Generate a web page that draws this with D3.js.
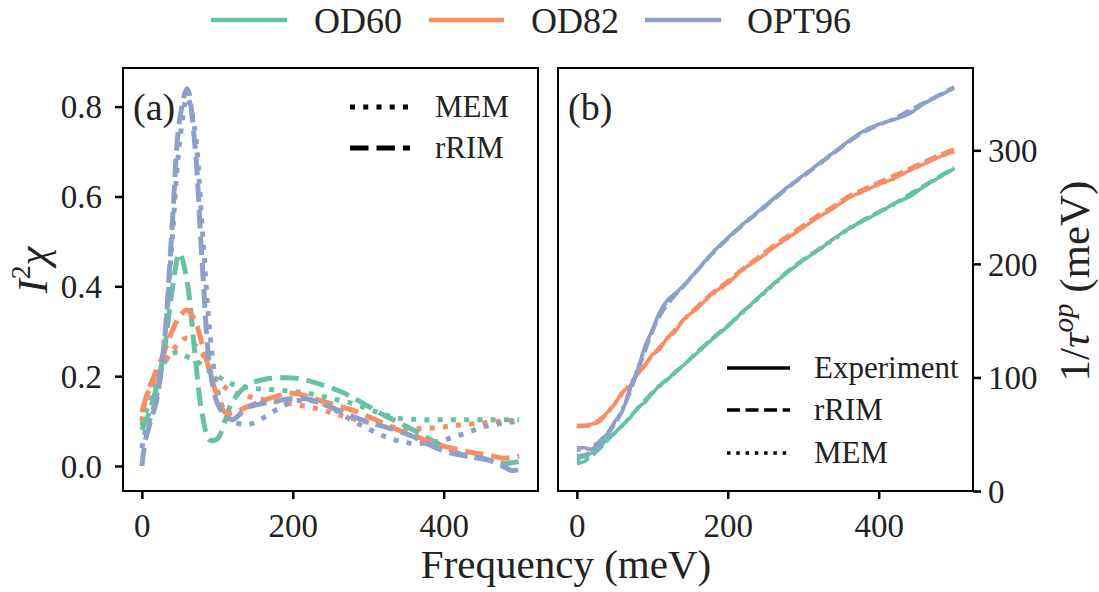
<!DOCTYPE html>
<html>
<head>
<meta charset="utf-8">
<script src="https://cdn.jsdelivr.net/npm/d3@7"></script>
<style>
  body { margin: 0; background: #fff; }
  svg text { font-family: "Liberation Serif", "Times New Roman", Tinos, "DejaVu Serif", "Noto Serif", serif !important; fill: #222; }
</style>
</head>
<body>
<div id="vis-container"></div>
<script>
// dataset names + colours (Set2)
let samples = ["OD60", "OD82", "OPT96"];
let colors = ["#66c2a5", "#fc8d62", "#8da0cb"];

// ---- panel (a): I^2 chi ----
let freqA = [0, 5, 10, 20, 30, 40, 50, 60, 70, 80, 90, 100, 110, 120, 140, 160, 180, 200,
  220, 240, 260, 280, 300, 320, 340, 360, 380, 400, 420, 440, 460, 480, 490, 500];

let od60Mem = [0.09, 0.12, 0.14, 0.19, 0.23, 0.25, 0.252, 0.243, 0.235, 0.225, 0.21, 0.2, 0.19, 0.182,
  0.174, 0.171, 0.169, 0.166, 0.162, 0.155, 0.147, 0.139, 0.127, 0.115, 0.106, 0.104, 0.103, 0.103,
  0.103, 0.103, 0.103, 0.103, 0.103, 0.103];
let od82Mem = [0.1, 0.15, 0.17, 0.2, 0.23, 0.255, 0.275, 0.285, 0.27, 0.25, 0.215, 0.19, 0.175, 0.165,
  0.155, 0.148, 0.143, 0.138, 0.132, 0.124, 0.114, 0.105, 0.097, 0.09, 0.085, 0.083, 0.084, 0.087,
  0.091, 0.094, 0.097, 0.1, 0.101, 0.101];
let opt96Mem = [0.04, 0.08, 0.1, 0.16, 0.28, 0.5, 0.72, 0.82, 0.75, 0.53, 0.3, 0.17, 0.12, 0.1,
  0.092, 0.106, 0.127, 0.143, 0.146, 0.138, 0.121, 0.1, 0.083, 0.067, 0.056, 0.05, 0.052, 0.058,
  0.068, 0.08, 0.09, 0.096, 0.098, 0.099];

let od60Rrim = [0.08, 0.1, 0.12, 0.18, 0.26, 0.39, 0.474, 0.41, 0.255, 0.115, 0.058, 0.06, 0.1, 0.143,
  0.18, 0.192, 0.196, 0.196, 0.19, 0.18, 0.168, 0.152, 0.133, 0.114, 0.097, 0.08, 0.061, 0.043,
  0.028, 0.019, 0.013, 0.005, 0.007, 0.01];
let od82Rrim = [0.12, 0.15, 0.175, 0.215, 0.255, 0.3, 0.333, 0.347, 0.325, 0.27, 0.21, 0.155, 0.12, 0.118,
  0.132, 0.145, 0.156, 0.162, 0.155, 0.144, 0.134, 0.124, 0.11, 0.095, 0.08, 0.068, 0.055, 0.044,
  0.036, 0.029, 0.024, 0.017, 0.019, 0.022];
let opt96Rrim = [0.0, 0.06, 0.09, 0.15, 0.28, 0.53, 0.77, 0.84, 0.72, 0.45, 0.22, 0.14, 0.113, 0.103,
  0.13, 0.139, 0.145, 0.15, 0.149, 0.138, 0.124, 0.11, 0.098, 0.088, 0.078, 0.065, 0.048, 0.034,
  0.025, 0.02, 0.013, -0.002, -0.01, -0.008];

// ---- panel (b): 1/tau^op (meV) ----
let freqB = [0, 10, 20, 30, 40, 50, 60, 70, 80, 90, 100, 110, 120, 130, 140, 160, 180, 200,
  220, 240, 260, 280, 300, 320, 340, 360, 380, 400, 420, 440, 460, 480, 500];

let od60Exp = [29, 30, 34, 38, 46, 51, 58, 64, 73, 78, 86, 93, 98, 105, 110, 122, 134, 145,
  158, 170, 182, 193, 203, 212, 222, 231, 238, 245, 253, 259, 268, 276, 284];
let od60RrimB = [24, 26, 31, 37, 44, 51, 57, 65, 72, 80, 87, 93, 99, 104, 110, 123, 135, 146,
  158, 170, 182, 194, 204, 213, 222, 231, 239, 246, 253, 261, 269, 277, 285];
let od60MemB = [27, 28, 32, 38, 45, 51, 58, 65, 72, 79, 86, 92, 98, 104, 110, 122, 134, 145,
  157, 169, 181, 193, 203, 212, 221, 230, 238, 245, 252, 260, 268, 276, 284];

let od82Exp = [57, 57, 59, 61, 69, 76, 87, 92, 103, 110, 120, 125, 135, 140, 150, 161, 174, 183,
  195, 204, 214, 223, 232, 241, 249, 258, 264, 270, 275, 282, 288, 294, 299];
let od82RrimB = [58, 58, 59, 63, 69, 77, 86, 94, 103, 111, 120, 127, 135, 142, 150, 163, 175, 185,
  196, 206, 216, 225, 234, 243, 251, 260, 266, 272, 278, 284, 290, 296, 301];
let od82MemB = [57, 57, 58, 62, 68, 77, 85, 93, 102, 111, 119, 126, 134, 141, 149, 162, 173, 183,
  195, 204, 214, 223, 232, 241, 249, 258, 264, 270, 275, 282, 288, 294, 299];

let opt96Exp = [38, 38, 37, 44, 50, 61, 70, 90, 106, 127, 142, 158, 168, 174, 180, 195, 210, 223,
  235, 246, 257, 268, 278, 288, 298, 308, 317, 323, 327, 332, 341, 348, 355];
let opt96RrimB = [31, 32, 35, 41, 49, 58, 70, 86, 104, 122, 140, 154, 164, 172, 179, 194, 209, 222,
  234, 245, 256, 267, 277, 287, 297, 307, 316, 322, 328, 335, 342, 349, 356];
let opt96MemB = [36, 36, 39, 44, 51, 60, 72, 88, 107, 125, 142, 156, 167, 173, 180, 195, 210, 223,
  235, 246, 257, 268, 278, 288, 298, 308, 317, 323, 327, 333, 341, 348, 355];

let xTicks = [0, 200, 400];
let yTicksA = [0, 0.2, 0.4, 0.6, 0.8];
let yTicksB = [0, 100, 200, 300];

let w = 1099;
let h = 592;
let serif = "'Liberation Serif', 'Times New Roman', Tinos, 'DejaVu Serif', serif";

let svg = d3.select("#vis-container")
  .append("svg")
  .attr("width", w)
  .attr("height", h)
  .attr("font-family", serif);

let top_ = 68, bottom = 491;
let boxA = {l: 123, r: 538};
let boxB = {l: 558, r: 973};

let xA = d3.scaleLinear().domain([-25, 525]).range([boxA.l, boxA.r]);
let xB = d3.scaleLinear().domain([-25, 525]).range([boxB.l, boxB.r]);
let yA = d3.scaleLinear().domain([-0.0557, 0.886]).range([bottom, top_]);
let yB = d3.scaleLinear().domain([0, 372.5]).range([bottom, top_]);

// line styles like matplotlib (pattern scaled by lw)
function dashFor(style, lw){
  if(style == "dashed") return (3.7*lw) + "," + (1.6*lw);
  if(style == "dotted") return (1*lw) + "," + (1.65*lw);
  return null;
}

function drawLine(xs, ys, vals, color, style, lw){
  let line = d3.line()
    .x((d, i)=>{return xs(vals.f[i]);})
    .y(d=>{return ys(d);})
    .curve(d3.curveCatmullRom.alpha(0.5));
  svg.append("path")
    .datum(vals.v)
    .attr("d", line)
    .attr("fill", "none")
    .attr("stroke", color)
    .attr("stroke-width", lw)
    .attr("stroke-dasharray", dashFor(style, lw))
    .attr("stroke-linecap", "butt");
}

// panel (a) curves: MEM first, then rRIM
let memA = [od60Mem, od82Mem, opt96Mem];
let rrimA = [od60Rrim, od82Rrim, opt96Rrim];
memA.forEach((v, i)=>{ drawLine(xA, yA, {f: freqA, v: v}, colors[i], "dotted", 5); });
rrimA.forEach((v, i)=>{ drawLine(xA, yA, {f: freqA, v: v}, colors[i], "dashed", 5); });

// panel (b) curves
let expB = [od60Exp, od82Exp, opt96Exp];
let rrimB = [od60RrimB, od82RrimB, opt96RrimB];
let memB = [od60MemB, od82MemB, opt96MemB];
for(let i = 0; i < 3; i++){
  drawLine(xB, yB, {f: freqB, v: expB[i]}, colors[i], "solid", 3.5);
  drawLine(xB, yB, {f: freqB, v: rrimB[i]}, colors[i], "dashed", 3.5);
  drawLine(xB, yB, {f: freqB, v: memB[i]}, colors[i], "dotted", 3.5);
}

// frames
[boxA, boxB].forEach(b=>{
  svg.append("rect")
    .attr("x", b.l).attr("y", top_)
    .attr("width", b.r - b.l).attr("height", bottom - top_)
    .attr("fill", "none").attr("stroke", "#000").attr("stroke-width", 2);
});

function styleAxis(g){
  g.attr("font-family", serif);
  g.select(".domain").remove();
  g.selectAll(".tick line").attr("stroke", "#000").attr("stroke-width", 2.5);
  g.selectAll(".tick text").attr("font-size", 33).attr("fill", "#222");
}

// x axes
[xA, xB].forEach(x=>{
  let g = svg.append("g")
    .attr("transform", "translate(0," + bottom + ")")
    .call(d3.axisBottom(x).tickValues(xTicks).tickSize(8).tickFormat(d3.format("d")));
  styleAxis(g);
  g.selectAll(".tick text").attr("y", 46).attr("dy", null);
});

// left y axis (a)
let gA = svg.append("g")
  .attr("transform", "translate(" + boxA.l + ",0)")
  .call(d3.axisLeft(yA).tickValues(yTicksA).tickSize(8).tickPadding(13).tickFormat(d3.format(".1f")));
styleAxis(gA);
gA.selectAll(".tick text").attr("dy", "0.34em");

// right y axis (b)
let gB = svg.append("g")
  .attr("transform", "translate(" + boxB.r + ",0)")
  .call(d3.axisRight(yB).tickValues(yTicksB).tickSize(8).tickPadding(7).tickFormat(d3.format("d")));
styleAxis(gB);
gB.selectAll(".tick text").attr("dy", "0.34em");

// axis labels
svg.append("text")
  .attr("x", 566).attr("y", 578)
  .attr("text-anchor", "middle")
  .attr("font-size", 41)
  .text("Frequency (meV)");

let ylab = svg.append("text")
  .attr("transform", "translate(47,270) rotate(-90)")
  .attr("text-anchor", "middle")
  .attr("font-size", 42);
ylab.append("tspan").attr("font-style", "italic").text("I");
ylab.append("tspan").attr("font-size", 28).attr("dy", -17).text("2");
ylab.append("tspan").attr("font-style", "italic").attr("dy", 17).text("χ");

let ylabB = svg.append("text")
  .attr("transform", "translate(1089,281) rotate(-90)")
  .attr("text-anchor", "middle")
  .attr("font-size", 43);
ylabB.append("tspan").text("1/");
ylabB.append("tspan").attr("font-style", "italic").text("τ");
ylabB.append("tspan").attr("font-style", "italic").attr("font-size", 29).attr("dy", -16).text("op");
ylabB.append("tspan").attr("dy", 16).text(" (meV)");

// panel tags
svg.append("text").attr("x", 133).attr("y", 120).attr("font-size", 38).attr("fill", "#111").text("(a)");
svg.append("text").attr("x", 568).attr("y", 120).attr("font-size", 38).attr("fill", "#111").text("(b)");

// top legend (samples)
let topLeg = [{x1: 211, x2: 287, tx: 314}, {x1: 429, x2: 504, tx: 531}, {x1: 645, x2: 721, tx: 747}];
samples.forEach((s, i)=>{
  let p = topLeg[i];
  svg.append("line")
    .attr("x1", p.x1).attr("x2", p.x2).attr("y1", 20).attr("y2", 20)
    .attr("stroke", colors[i]).attr("stroke-width", 4.5);
  svg.append("text")
    .attr("x", p.tx).attr("y", 33)
    .attr("font-size", 36)
    .text(s);
});

// style legends
function styleLegend(items, x1, x2, tx, lw, fs){
  items.forEach(it=>{
    svg.append("line")
      .attr("x1", x1).attr("x2", x2).attr("y1", it.y).attr("y2", it.y)
      .attr("stroke", "#000").attr("stroke-width", lw)
      .attr("stroke-dasharray", dashFor(it.style, lw));
    svg.append("text")
      .attr("x", tx).attr("y", it.y + 10)
      .attr("font-size", fs)
      .attr("fill", "#3a3a3a")
      .text(it.name);
  });
}
styleLegend([{name: "MEM", style: "dotted", y: 107}, {name: "rRIM", style: "dashed", y: 148}],
  350, 410, 435, 5, 31);
styleLegend([{name: "Experiment", style: "solid", y: 368}, {name: "rRIM", style: "dashed", y: 410},
  {name: "MEM", style: "dotted", y: 453}], 727, 790, 814, 3.5, 31);
</script>
</body>
</html>
